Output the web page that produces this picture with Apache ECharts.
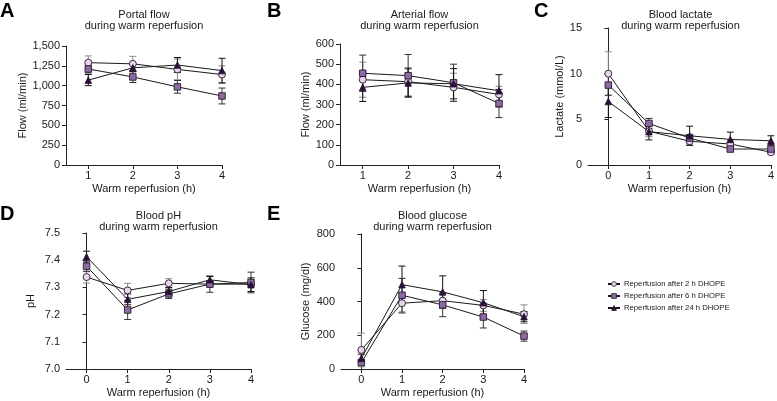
<!DOCTYPE html>
<html><head><meta charset="utf-8">
<script src="https://cdn.jsdelivr.net/npm/echarts@6/dist/echarts.min.js"></script>
<style>html,body{margin:0;padding:0;background:#fff}#c{width:777px;height:401px}</style>
</head><body><div id="c"></div>
<script>
// ---- data ----
const groupNames = ['Reperfusion after 2 h DHOPE','Reperfusion after 6 h DHOPE','Reperfusion after 24 h DHOPE'];
const hoursA = [1,2,3,4];
const hoursC = [0,1,2,3,4];

const portal2h = [1290,1275,1205,1140];
const portal2hErr = [85,95,130,110];
const portal6h = [1210,1110,985,870];
const portal6hErr = [50,70,80,100];
const portal24h = [1070,1225,1260,1190];
const portal24hErr = [70,50,95,155];

const arterial2h = [423,413,385,350];
const arterial2hErr = [87,70,70,40];
const arterial6h = [455,443,408,305];
const arterial6hErr = [90,105,92,70];
const arterial24h = [385,407,403,368];
const arterial24hErr = [70,70,75,80];

const lactate2h = [10.0,3.7,2.6,2.3,1.4];
const lactate2hErr = [2.4,0.6,0.4,0.4,0.2];
const lactate6h = [8.75,4.55,2.95,1.75,1.75];
const lactate6hErr = [1.1,0.55,0.4,0.3,0.5];
const lactate24h = [6.95,3.65,3.2,2.8,2.65];
const lactate24hErr = [1.75,0.9,1.05,0.8,0.55];

const ph2h = [7.338,7.289,7.315,7.312,7.312];
const ph2hErr = [0.022,0.026,0.017,0.01,0.01];
const ph6h = [7.378,7.217,7.276,7.312,7.318];
const ph6hErr = [0.02,0.035,0.017,0.03,0.038];
const ph24h = [7.413,7.256,7.285,7.328,7.31];
const ph24hErr = [0.02,0.02,0.015,0.012,0.025];

const glucose2h = [113,390,405,377,325];
const glucose2hErr = [100,60,45,35,55];
const glucose6h = [38,437,380,308,195];
const glucose6hErr = [15,100,70,65,30];
const glucose24h = [63,500,457,393,310];
const glucose24hErr = [25,110,95,72,30];

const panelTitles = ['Portal flow\nduring warm reperfusion','Arterial flow\nduring warm reperfusion','Blood lactate\nduring warm reperfusion','Blood pH\nduring warm reperfusion','Blood glucose\nduring warm reperfusion'];
const yNames = ['Flow (ml/min)','Flow (ml/min)','Lactate (mmol/L)','pH','Glucose (mg/dl)'];
const xName = 'Warm reperfusion (h)';
const letters = ['A','B','C','D','E'];

// ---- layout/style ----
const FONT = 'Arial, "Liberation Sans", sans-serif';
const TXT = '#1a1a1a';
const grids = [
  {left:66, top:46, width:156, height:119},
  {left:340, top:44, width:159, height:121},
  {left:588, top:28, width:185, height:137},
  {left:66, top:233, width:185, height:136},
  {left:341, top:234, width:183, height:135}
];
const yCfg = [
  {min:0,max:1500,interval:250,fmt:v=>v.toLocaleString('en-US'),gap:36},
  {min:0,max:600,interval:100,fmt:v=>String(v),gap:29},
  {min:0,max:15,interval:5,fmt:v=>String(v),gap:21},
  {min:7.0,max:7.5,interval:0.1,fmt:v=>v.toFixed(1),gap:30},
  {min:0,max:800,interval:200,fmt:v=>String(v),gap:30}
];
const xCfg = [
  {min:0.5,max:4,vals:hoursA},
  {min:0.5,max:4,vals:hoursA},
  {min:-0.5,max:4,vals:hoursC},
  {min:-0.5,max:4,vals:hoursC},
  {min:-0.5,max:4,vals:hoursC}
];
const panels = [
  {x:hoursA, m:[portal2h,portal6h,portal24h], e:[portal2hErr,portal6hErr,portal24hErr]},
  {x:hoursA, m:[arterial2h,arterial6h,arterial24h], e:[arterial2hErr,arterial6hErr,arterial24hErr]},
  {x:hoursC, m:[lactate2h,lactate6h,lactate24h], e:[lactate2hErr,lactate6hErr,lactate24hErr]},
  {x:hoursC, m:[ph2h,ph6h,ph24h], e:[ph2hErr,ph6hErr,ph24hErr]},
  {x:hoursC, m:[glucose2h,glucose6h,glucose24h], e:[glucose2hErr,glucose6hErr,glucose24hErr]}
];
const symbols = ['circle','rect','triangle'];
const symSizes = [7,6.5,6.5];
const fills = ['#ead6ec','#8c6aa2','#2c0c3c'];
const errColors = ['#8a8a8a','#333333','#111111'];

const axisLine = {show:true, lineStyle:{color:'#222', width:1}};
const axisTick = {show:true, inside:false, length:4, lineStyle:{color:'#222', width:1}};

const xAxis = [], yAxis = [], series = [], title = [], graphic = [];
grids.forEach((g,i)=>{
  xAxis.push({gridIndex:i, type:'value', min:xCfg[i].min, max:xCfg[i].max,
    axisLine, axisTick:Object.assign({customValues:xCfg[i].vals}, axisTick),
    axisLabel:{customValues:xCfg[i].vals, margin:5, color:TXT, fontSize:11, fontFamily:FONT},
    splitLine:{show:false},
    name:xName, nameLocation:'middle', nameGap:18, nameTextStyle:{color:TXT, fontSize:11, fontFamily:FONT}});
  yAxis.push({gridIndex:i, type:'value', min:yCfg[i].min, max:yCfg[i].max, interval:yCfg[i].interval,
    axisLine, axisTick,
    axisLabel:{margin:6, color:TXT, fontSize:11, fontFamily:FONT, formatter:yCfg[i].fmt},
    splitLine:{show:false},
    name:yNames[i], nameLocation:'middle', nameGap:yCfg[i].gap, nameTextStyle:{color:TXT, fontSize:11, fontFamily:FONT}});
  title.push({text:panelTitles[i], left:g.left+g.width/2, top:(i<3?9:210), textAlign:'center', padding:0,
    textStyle:{fontSize:11, fontWeight:'normal', color:TXT, fontFamily:FONT, lineHeight:11}});
  const p = panels[i];
  for (let k=0;k<3;k++){
    const errData = p.x.map((xv,j)=>[xv, p.m[k][j], p.e[k][j]]);
    series.push({type:'custom', name:'err'+i+'_'+k, xAxisIndex:i, yAxisIndex:i, z:1,
      data:errData, encode:{x:0,y:1}, silent:true,
      renderItem:(params, api)=>{
        const xv=api.value(0), yv=api.value(1), ev=api.value(2);
        const t=api.coord([xv,yv+ev]), b=api.coord([xv,yv-ev]);
        const w=3.5, st={stroke:errColors[k], lineWidth:1};
        return {type:'group', children:[
          {type:'line', shape:{x1:t[0],y1:t[1],x2:b[0],y2:b[1]}, style:st},
          {type:'line', shape:{x1:t[0]-w,y1:t[1],x2:t[0]+w,y2:t[1]}, style:st},
          {type:'line', shape:{x1:b[0]-w,y1:b[1],x2:b[0]+w,y2:b[1]}, style:st}
        ]};
      }});
  }
  for (let k=0;k<3;k++){
    series.push({type:'line', name:groupNames[k], xAxisIndex:i, yAxisIndex:i, z:3+k,
      data:p.x.map((xv,j)=>[xv, p.m[k][j]]),
      symbol:symbols[k], symbolSize:symSizes[k], showAllSymbol:true,
      lineStyle:{color:'#1a1a1a', width:1},
      itemStyle:{color:fills[k], borderColor:'#2a1a30', borderWidth:0.9},
      emphasis:{disabled:true}, animation:false});
  }
  graphic.push({type:'text', left:(i%3===0?0:(i===1||i===4?267:534)), top:(i<3?1:204),
    style:{text:letters[i], font:'bold 20px '+FONT, fill:'#000'}});
});

const chart = echarts.init(document.getElementById('c'), null, {renderer:'canvas'});
chart.setOption({
  animation:false,
  backgroundColor:'#fff',
  title, grid:grids, xAxis, yAxis, series, graphic,
  legend:{data:groupNames, orient:'vertical', left:607, top:280, itemWidth:12, itemHeight:6, itemGap:4, padding:0,
    itemStyle:{borderWidth:0.8},
    textStyle:{fontSize:7.7, color:TXT, fontFamily:FONT, padding:[0,0,0,-1]}, selectedMode:false}
});
</script></body></html>
